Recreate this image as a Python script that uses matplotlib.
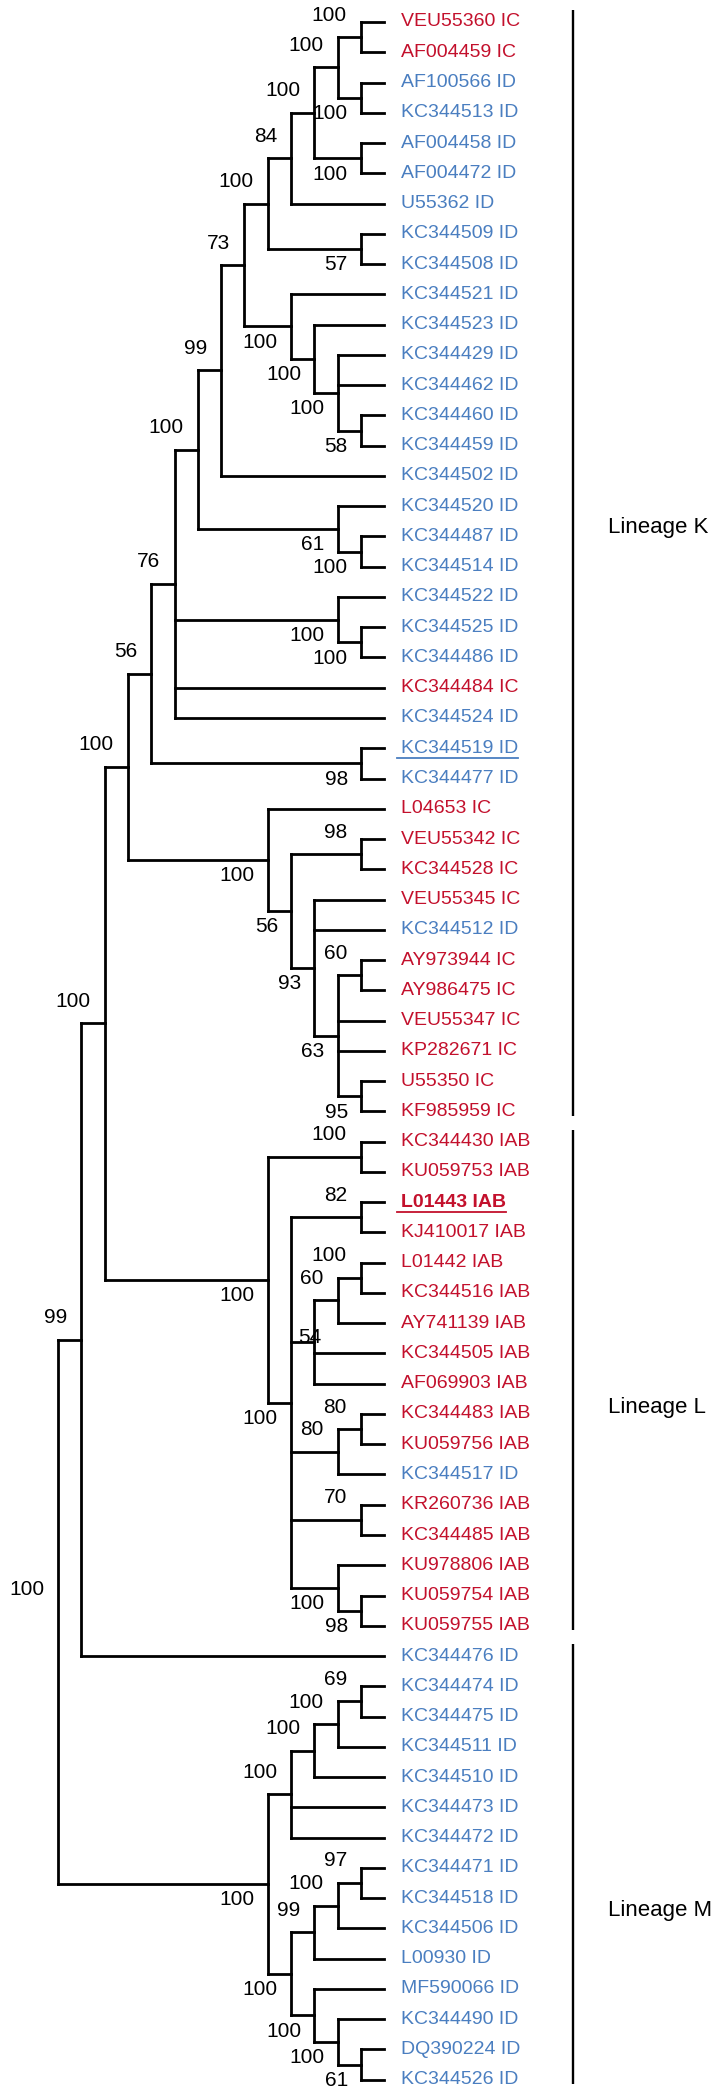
import matplotlib
matplotlib.use("Agg")
import matplotlib.pyplot as plt
from matplotlib.collections import LineCollection

plt.rcParams['font.family'] = ['Liberation Sans', 'DejaVu Sans']

# tree topology with bootstrap support (newick, children listed top to bottom)
clade_k = ("((((((((((VEU55360_IC,AF004459_IC)100,(AF100566_ID,KC344513_ID)100)100,"
           "(AF004458_ID,AF004472_ID)100)100,U55362_ID)84,(KC344509_ID,KC344508_ID)57)100,"
           "(KC344521_ID,(KC344523_ID,(KC344429_ID,KC344462_ID,(KC344460_ID,KC344459_ID)58)100)100)100)73,"
           "KC344502_ID)99,(KC344520_ID,(KC344487_ID,KC344514_ID)100)61)100,"
           "(KC344522_ID,(KC344525_ID,KC344486_ID)100)100,KC344484_IC,KC344524_ID)76,"
           "(KC344519_ID,KC344477_ID)98)56")
clade_ic = ("(L04653_IC,((VEU55342_IC,KC344528_IC)98,(VEU55345_IC,KC344512_ID,"
            "((AY973944_IC,AY986475_IC)60,VEU55347_IC,KP282671_IC,(U55350_IC,KF985959_IC)95)63)93)56)100")
clade_l = ("((KC344430_IAB,KU059753_IAB)100,((L01443_IAB,KJ410017_IAB)82,"
           "(((L01442_IAB,KC344516_IAB)100,AY741139_IAB)60,KC344505_IAB,AF069903_IAB)54,"
           "((KC344483_IAB,KU059756_IAB)80,KC344517_ID)80,(KR260736_IAB,KC344485_IAB)70,"
           "(KU978806_IAB,(KU059754_IAB,KU059755_IAB)98)100)100)100")
clade_m = ("(((((KC344474_ID,KC344475_ID)69,KC344511_ID)100,KC344510_ID)100,KC344473_ID,KC344472_ID)100,"
           "((((KC344471_ID,KC344518_ID)97,KC344506_ID)100,L00930_ID)99,"
           "(MF590066_ID,(KC344490_ID,(DQ390224_ID,KC344526_ID)61)100)100)100)100")
tree = f"(((({clade_k},{clade_ic})100,{clade_l})100,KC344476_ID)99,{clade_m})100;"

highlighted = ["KC344519 ID", "L01443 IAB"]
bold_taxa = ["L01443 IAB"]

lineage_names = ["Lineage K", "Lineage L", "Lineage M"]
lineage_first = ["VEU55360 IC", "KC344430 IAB", "KC344476 ID"]
lineage_last = ["KF985959 IC", "KU059755 IAB", "KC344526 ID"]

# where each support value sits relative to its node (postorder): a=above, b=below, m=on node
label_side = ("ababaababbbbaabbabbaba" + "aabbbbb" + "a" + "aaaamaaabbbb" + "aa"
              + "aaaaaaabbbbb" + "a")

RED = "#C3102C"
BLUE = "#4A7EC0"


def parse(s):
    pos = 0

    def node():
        nonlocal pos
        if s[pos] == '(':
            pos += 1
            kids = [node()]
            while s[pos] == ',':
                pos += 1
                kids.append(node())
            pos += 1
            j = pos
            while s[pos] not in ',);':
                pos += 1
            return {'kids': kids, 'support': s[j:pos]}
        j = pos
        while s[pos] not in ',);':
            pos += 1
        return {'name': s[j:pos].replace('_', ' ')}
    return node()


root = parse(tree)
leaves, internal = [], []


def layout(n):
    if 'name' in n:
        n['y'] = len(leaves)
        n['h'] = 0
        leaves.append(n)
        return
    for k in n['kids']:
        layout(k)
    n['h'] = max(k['h'] for k in n['kids']) + 1
    n['y'] = (n['kids'][0]['y'] + n['kids'][-1]['y']) / 2
    internal.append(n)


layout(root)
depth = root['h']
for n in leaves + internal:
    n['x'] = depth - n['h']

fig = plt.figure(figsize=(7.22, 21), dpi=100)
ax = fig.add_axes([0, 0, 1, 1])
ax.axis('off')
ax.set_xlim(-58 / 23.3, 664 / 23.3)
ax.set_ylim(2078 / 30.26, -22 / 30.26)

segs = []
for n in internal:
    segs.append([(n['x'], n['kids'][0]['y']), (n['x'], n['kids'][-1]['y'])])
    for k in n['kids']:
        segs.append([(n['x'], k['y']), (k['x'], k['y'])])
ax.add_collection(LineCollection(segs, colors='black', linewidths=2.0, capstyle='projecting'))

offsets = {'a': (-14, 22), 'b': (-13, -16), 'm': (7, 5)}
for n, side in zip(internal, label_side):
    ax.annotate(n['support'], (n['x'], n['y']), xytext=offsets[side], textcoords='offset pixels',
                ha='right', va='center', fontsize=15, color='black')

texts = {}
for n in leaves:
    name = n['name']
    col = BLUE if name.endswith(' ID') else RED
    texts[name] = ax.annotate(name, (n['x'], n['y']), xytext=(17, 0), textcoords='offset pixels',
                              ha='left', va='center', fontsize=14, color=col,
                              fontweight='bold' if name in bold_taxa else 'normal')

leaf_row = {n['name']: n['y'] for n in leaves}
bar_x = 22.1
nudge = [-1.3, 0.8, 1.4]
for name, a, b, dy in zip(lineage_names, lineage_first, lineage_last, nudge):
    y0, y1 = leaf_row[a], leaf_row[b]
    ax.plot([bar_x, bar_x], [y0 - 0.4, y1 + 0.15], color='black', lw=1.7, solid_capstyle='butt')
    ax.text(bar_x + 1.5, (y0 + y1) / 2 + dy, name, ha='left', va='center', fontsize=16)

# underline the two highlighted strains
fig.canvas.draw()
renderer = fig.canvas.get_renderer()
inv = ax.transData.inverted()
for name in highlighted:
    t = texts[name]
    bb = t.get_window_extent(renderer)
    cy = (bb.y0 + bb.y1) / 2 - 10
    p0 = inv.transform((bb.x0 - 4, cy))
    p1 = inv.transform((bb.x1, cy))
    ax.plot([p0[0], p1[0]], [p0[1], p1[1]], color=t.get_color(), lw=1.3)

fig.savefig("out.png", dpi=100)
